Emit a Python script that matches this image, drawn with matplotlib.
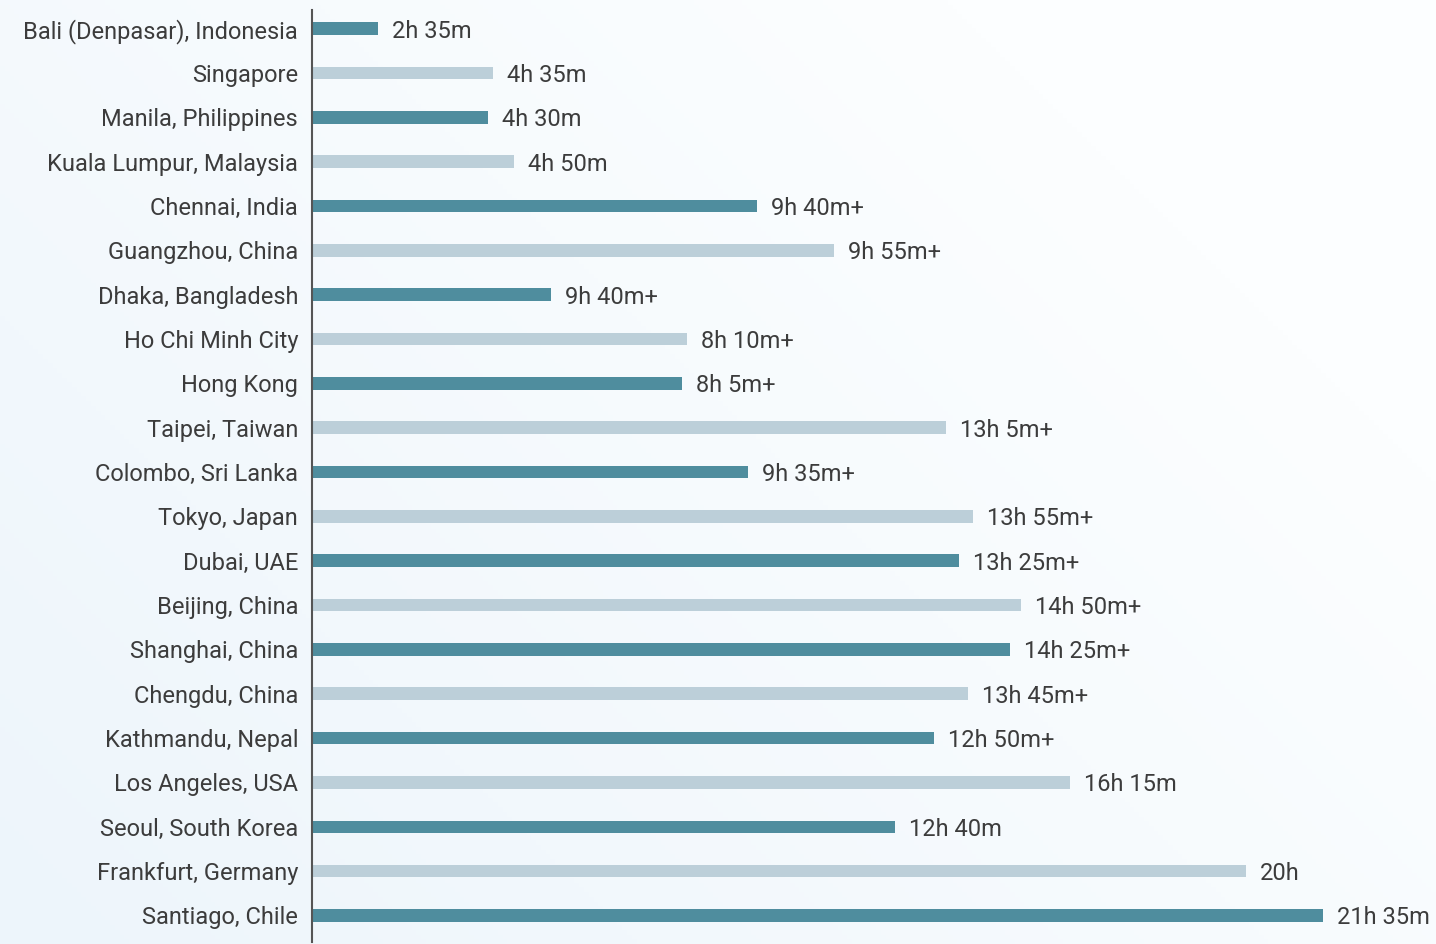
import matplotlib
matplotlib.use("Agg")
import matplotlib.pyplot as plt
import numpy as np
from matplotlib.colors import LinearSegmentedColormap

cities = ["Bali (Denpasar), Indonesia", "Singapore", "Manila, Philippines",
          "Kuala Lumpur, Malaysia", "Chennai, India", "Guangzhou, China",
          "Dhaka, Bangladesh", "Ho Chi Minh City", "Hong Kong", "Taipei, Taiwan",
          "Colombo, Sri Lanka", "Tokyo, Japan", "Dubai, UAE", "Beijing, China",
          "Shanghai, China", "Chengdu, China", "Kathmandu, Nepal",
          "Los Angeles, USA", "Seoul, South Korea", "Frankfurt, Germany",
          "Santiago, Chile"]
bar_values = [1.41, 3.87, 3.76, 4.32, 9.51, 11.15, 5.11, 8.01, 7.91, 13.55,
              9.32, 14.12, 13.82, 15.15, 14.91, 14.02, 13.29, 16.20, 12.46,
              19.96, 21.60]
time_labels = ["2h 35m", "4h 35m", "4h 30m", "4h 50m", "9h 40m+", "9h 55m+",
               "9h 40m+", "8h 10m+", "8h 5m+", "13h 5m+", "9h 35m+", "13h 55m+",
               "13h 25m+", "14h 50m+", "14h 25m+", "13h 45m+", "12h 50m+",
               "16h 15m", "12h 40m", "20h", "21h 35m"]

dark = "#4F8D9E"
light = "#BCCFD9"
text_color = "#3C3C3C"

plt.rcParams['font.family'] = ['Roboto', 'DejaVu Sans']

fig = plt.figure(figsize=(14.36, 9.44), dpi=100)

# background gradient
bg = fig.add_axes([0, 0, 1, 1], zorder=-10)
xx, yy = np.meshgrid(np.linspace(0, 1, 300), np.linspace(0, 1, 200))
grad = np.clip((xx * 0.9 + (1 - yy) * 0.6) / 1.2, 0, 1)
cmap = LinearSegmentedColormap.from_list("bgc", ["#EDF5FB", "#FCFEFF"])
bg.imshow(grad, cmap=cmap, aspect="auto", extent=[0, 1, 0, 1], origin="upper")
bg.axis("off")

ax = fig.add_axes([312 / 1436, 2 / 944, 1123 / 1436, 932 / 944])
ax.patch.set_alpha(0)
y = np.arange(len(cities))
colors = [dark if i % 2 == 0 else light for i in range(len(cities))]
ax.barh(y, bar_values, height=0.28, color=colors)
for yi, v, lab in zip(y, bar_values, time_labels):
    ax.annotate(lab, xy=(v, yi), xytext=(10, 0), textcoords="offset points",
                va="center_baseline", ha="left", fontsize=17, color=text_color)

ax.set_xlim(0, 24)
ax.set_ylim(20.6, -0.42)
ax.set_yticks(y)
ax.set_yticklabels(cities, fontsize=17, color=text_color)
ax.tick_params(axis="y", length=0, pad=10)
ax.set_xticks([])
for s in ["top", "right", "bottom"]:
    ax.spines[s].set_visible(False)
ax.spines["left"].set_color("#555555")
ax.spines["left"].set_linewidth(1.5)

fig.savefig("out.png", dpi=100)
